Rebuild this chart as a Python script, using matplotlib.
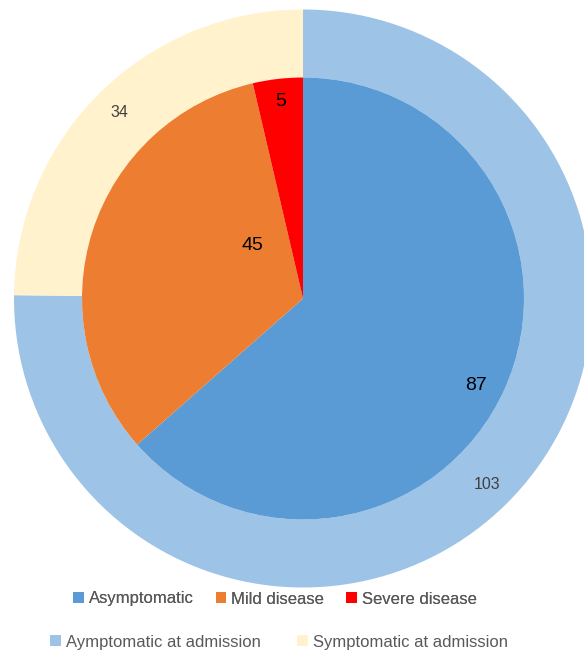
import numpy as np
import matplotlib
matplotlib.use('Agg')
import matplotlib.pyplot as plt
from matplotlib.patches import Patch

plt.rcParams['font.family'] = ['Liberation Sans', 'DejaVu Sans']

# Inner pie: disease severity
inner_labels = ["Asymptomatic", "Mild disease", "Severe disease"]
inner_values = [87, 45, 5]
inner_colors = ["#5B9BD5", "#ED7D31", "#FF0000"]

# Outer ring: status at admission
outer_labels = ["Aymptomatic at admission", "Symptomatic at admission"]
outer_values = [103, 34]
outer_colors = ["#9DC3E6", "#FFF2CC"]

fig = plt.figure(figsize=(5.84, 6.5), dpi=100)
ax = fig.add_axes([14 / 584, 62.5 / 650, 578 / 584, 578 / 650])

r_inner = 221 / 289

outer_w, _ = ax.pie(outer_values, radius=1, colors=outer_colors, startangle=90,
                    counterclock=False, wedgeprops=dict(width=1 - r_inner, linewidth=0))
inner_w, _ = ax.pie(inner_values, radius=r_inner, colors=inner_colors, startangle=90,
                    counterclock=False, wedgeprops=dict(linewidth=0))

# pie() resets the limits, so fix them afterwards
ax.set_xlim(-1, 1)
ax.set_ylim(-1, 1)
ax.set_aspect('equal')
ax.axis('off')

# data labels (outer ring)
for w, v in zip(outer_w, outer_values):
    ang = np.deg2rad((w.theta1 + w.theta2) / 2)
    ax.text(0.904 * np.cos(ang), 0.904 * np.sin(ang), str(v), ha='center', va='center',
            fontsize=11.5, color='#404040')

# data labels (inner pie) - Excel best fit positions
inner_dist = [0.671, 0.253, 0.687]
inner_shift = [-2.5, -29, 0]
for w, v, d, s in zip(inner_w, inner_values, inner_dist, inner_shift):
    ang = np.deg2rad((w.theta1 + w.theta2) / 2 + s)
    ax.text(d * np.cos(ang), d * np.sin(ang), str(v), ha='center', va='center',
            fontsize=14, color='black')

h1 = [Patch(facecolor=c, edgecolor='none') for c in inner_colors]
h2 = [Patch(facecolor=c, edgecolor='none') for c in outer_colors]
leg1 = fig.legend(h1, inner_labels, loc='center', bbox_to_anchor=(275 / 584, 1 - 599 / 650),
                  ncol=3, frameon=False, fontsize=12, handlelength=0.65, handleheight=0.65,
                  handletextpad=0.3, columnspacing=1.3, labelcolor='#595959')
leg2 = fig.legend(h2, outer_labels, loc='center', bbox_to_anchor=(279 / 584, 1 - 642 / 650),
                  ncol=2, frameon=False, fontsize=12, handlelength=0.65, handleheight=0.65,
                  handletextpad=0.3, columnspacing=2.2, labelcolor='#595959')
fig.add_artist(leg1)

fig.savefig("out.png", dpi=100)
